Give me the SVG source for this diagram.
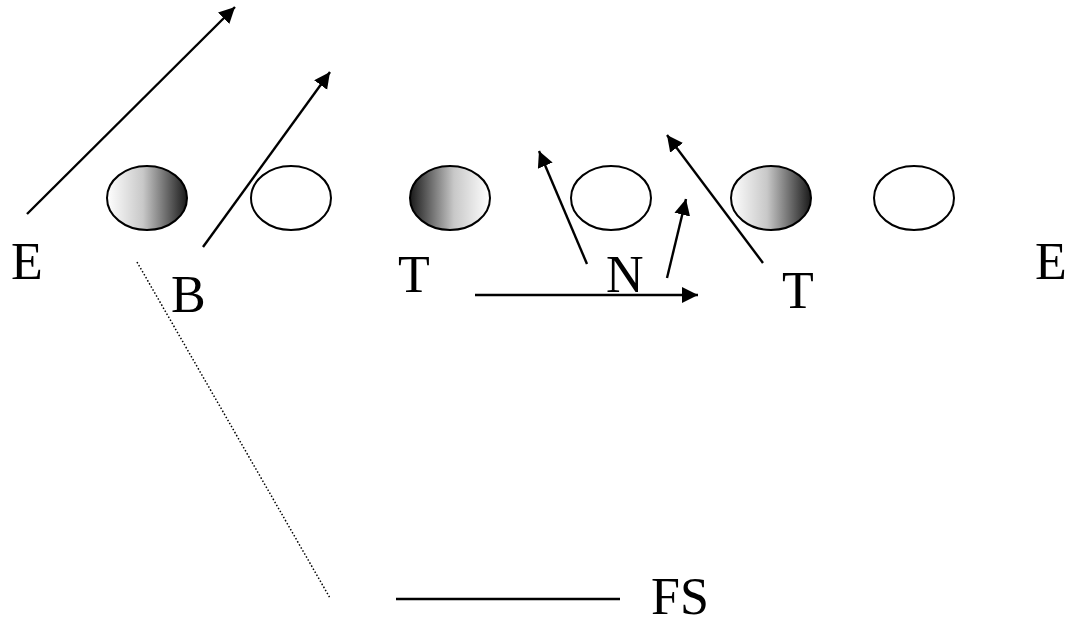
<svg xmlns="http://www.w3.org/2000/svg" width="1066" height="623" viewBox="0 0 1066 623">
<style>
.lbl{font-family:"Liberation Serif","Times New Roman",Times,serif;font-size:52px;fill:#000}
.ov{stroke:#000;stroke-width:2}
.ln{stroke:#000;stroke-width:2.4;fill:none}
</style>
<defs>
<marker id="ah" markerUnits="userSpaceOnUse" markerWidth="18" markerHeight="18" refX="16" refY="8" orient="auto">
<path d="M0,0 L16,8 L0,16 z" fill="#000"/>
</marker>
<linearGradient id="gR" x1="0" y1="0" x2="1" y2="0">
<stop offset="0" stop-color="#ffffff"/>
<stop offset="0.45" stop-color="#c8c8c8"/>
<stop offset="1" stop-color="#1a1a1a"/>
</linearGradient>
<linearGradient id="gL" x1="0" y1="0" x2="1" y2="0">
<stop offset="0" stop-color="#1a1a1a"/>
<stop offset="0.55" stop-color="#c8c8c8"/>
<stop offset="1" stop-color="#ffffff"/>
</linearGradient>
</defs>
<rect width="1066" height="623" fill="#fff"/>
<g id="o1"><ellipse class="ov" cx="147" cy="198" rx="40" ry="32" fill="url(#gR)"/></g>
<g id="o2"><ellipse class="ov" cx="291" cy="198" rx="40" ry="32" fill="#fff"/></g>
<g id="o3"><ellipse class="ov" cx="450" cy="198" rx="40" ry="32" fill="url(#gL)"/></g>
<g id="o4"><ellipse class="ov" cx="611" cy="198" rx="40" ry="32" fill="#fff"/></g>
<g id="o5"><ellipse class="ov" cx="771" cy="198" rx="40" ry="32" fill="url(#gR)"/></g>
<g id="o6"><ellipse class="ov" cx="914" cy="198" rx="40" ry="32" fill="#fff"/></g>
<g id="labels">
<text class="lbl" x="11" y="279">E</text>
<text class="lbl" x="171" y="312">B</text>
<text class="lbl" x="398" y="292">T</text>
<text class="lbl" x="606" y="292">N</text>
<text class="lbl" x="782" y="308">T</text>
<text class="lbl" x="1035" y="279">E</text>
<text class="lbl" x="651" y="614">FS</text>
</g>
<g id="connectors">
<line class="ln" x1="27" y1="214" x2="235" y2="7" marker-end="url(#ah)"/>
<line class="ln" x1="203" y1="247" x2="330" y2="72" marker-end="url(#ah)"/>
<line class="ln" x1="587" y1="264" x2="539" y2="151" marker-end="url(#ah)"/>
<line class="ln" x1="667" y1="278" x2="686" y2="199" marker-end="url(#ah)"/>
<line class="ln" x1="763" y1="263" x2="667" y2="135" marker-end="url(#ah)"/>
<line class="ln" x1="475" y1="295" x2="698" y2="295" marker-end="url(#ah)"/>
<line x1="137" y1="262" x2="330" y2="598" stroke="#000" stroke-width="1.5" stroke-dasharray="1.5 2"/>
<line class="ln" x1="396" y1="599" x2="620" y2="599"/>
</g>
</svg>
